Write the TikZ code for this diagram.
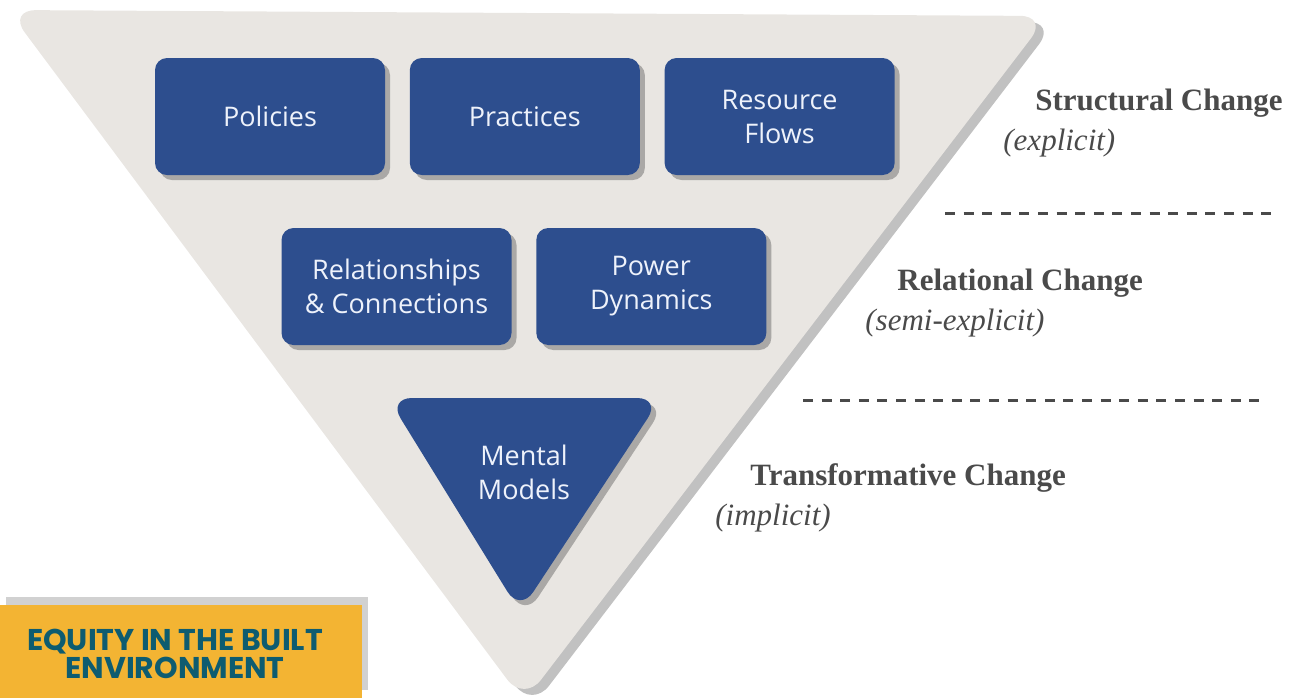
\documentclass[tikz,border=0pt]{standalone}
\usepackage{fontspec}
\setmainfont{Liberation Serif}
\setsansfont{Open Sans}
\newfontfamily\bannerfont{Poppins}
\usetikzlibrary{positioning,shadows}

\definecolor{panelgray}{HTML}{E9E6E2}
\definecolor{boxblue}{HTML}{2D4E8E}
\definecolor{boxtext}{HTML}{EEF2FB}
\definecolor{labelgray}{HTML}{4A4A4A}
\definecolor{bannergold}{HTML}{F3B433}
\definecolor{bannerteal}{HTML}{0E5C70}

\begin{document}
\begin{tikzpicture}[x=0.5pt, y=-0.5pt]
        \tikzstyle{boxshadow}=[drop shadow={shadow xshift=2.5pt, shadow yshift=-2.5pt, opacity=.4, fill=black!70}]
        \tikzstyle{block}=[boxshadow, fill=boxblue, rounded corners=6pt, minimum width=115pt, minimum height=58.5pt,
            align=center, text=boxtext, font=\sffamily\fontsize{13.5}{17}\selectfont]
        \tikzstyle{level}=[anchor=west, inner sep=0pt, text=labelgray, font=\bfseries\fontsize{15.5}{18}\selectfont]
        \tikzstyle{kind}=[anchor=west, inner sep=0pt, text=labelgray, font=\itshape\fontsize{15.5}{18}\selectfont]
        \tikzstyle{divider}=[labelgray, line width=1.5pt, dash pattern=on 5pt off 4.3pt]

        \useasboundingbox (0,0) rectangle (1291,698);

        % big inverted triangle
        \fill[panelgray, rounded corners=14pt,
            drop shadow={shadow xshift=4pt, shadow yshift=-3pt, opacity=.35, fill=black!70}]
            (8,10) -- (1048,16) -- (524,702) -- cycle;

        \node (policies)  [block] at (270,116.5) {Policies};
        \node (practices) [block, right=12pt of policies] {Practices};
        \node (resources) [block, right=12pt of practices] {Resource\\Flows};

        \node (relations) [block] at (396.5,286.5) {Relationships\\\& Connections};
        \node (power)     [block, right=12pt of relations] {Power\\Dynamics};

        \fill[boxblue, rounded corners=12pt, boxshadow] (388,398) -- (661,398) -- (520,612) -- cycle;
        \node (mental) [align=center, text=boxtext, font=\sffamily\fontsize{13.5}{17}\selectfont] at (524,472) {Mental\\Models};

        \node (structural) [level] at (1035,103) {Structural Change};
        \node (explicit)   [kind]  at (1003,143) {(explicit)};
        \node (relational) [level] at (897,283) {Relational Change};
        \node (semi)       [kind]  at (865,323) {(semi-explicit)};
        \node (transform)  [level] at (750,478) {Transformative Change};
        \node (implicit)   [kind]  at (715,518) {(implicit)};

        \draw[divider] (945,213) -- (1276,213);
        \draw[divider] (803,400) -- (1266,400);

        % banner
        \node (banner) [fill=bannergold, minimum width=181pt, minimum height=46.5pt, anchor=north west, inner sep=0pt,
            drop shadow={shadow xshift=3pt, shadow yshift=4pt, opacity=.3, fill=black!60}] at (0,605) {};
        \node (bannertext) [align=center, text=bannerteal, font=\bannerfont\bfseries\fontsize{15}{14}\selectfont]
            at (175,654) {EQUITY IN THE BUILT\\ENVIRONMENT};
    \end{tikzpicture}
\end{document}
